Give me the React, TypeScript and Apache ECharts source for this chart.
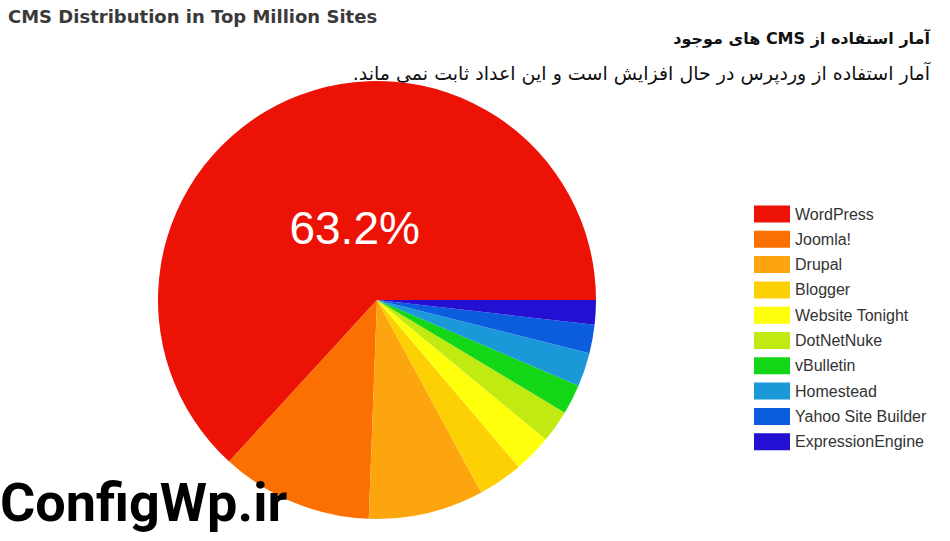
import React, { useEffect, useRef } from "react";
import * as echarts from "echarts";

const categories = [
  "WordPress",
  "Joomla!",
  "Drupal",
  "Blogger",
  "Website Tonight",
  "DotNetNuke",
  "vBulletin",
  "Homestead",
  "Yahoo Site Builder",
  "ExpressionEngine",
];
const shares = [63.2, 11.2, 8.5, 3.3, 2.8, 2.4, 2.2, 2.5, 2.1, 1.8];
const colors = [
  "#ec1206",
  "#fb7000",
  "#fca50e",
  "#fdd004",
  "#ffff0c",
  "#c0ea12",
  "#12d616",
  "#1a98d8",
  "#0c5ce0",
  "#2410d2",
];
const chartTitle = "CMS Distribution in Top Million Sites";
const faTitle = "آمار استفاده از CMS های موجود";
const faSubtitle = "آمار استفاده از وردپرس در حال افزایش است و این اعداد ثابت نمی ماند.";
const watermark = "ConfigWp.ir";

const RLE = "\u202B";
const PDF = "\u202C";

export default function App() {
  const ref = useRef<HTMLDivElement>(null);
  useEffect(() => {
    if (!ref.current) return;
    const chart = echarts.init(ref.current, undefined, { renderer: "svg" });
    chart.setOption({
      animation: false,
      backgroundColor: "#ffffff",
      title: [
        {
          text: chartTitle,
          left: 3,
          top: 2,
          textStyle: { fontFamily: "DejaVu Sans", fontWeight: "bold", fontSize: 18, color: "#3a3a3a" },
        },
        {
          text: RLE + faTitle + PDF,
          right: 15,
          top: 25,
          textStyle: { fontFamily: "DejaVu Sans", fontWeight: "bold", fontSize: 16, color: "#111" },
        },
        {
          text: RLE + faSubtitle + PDF,
          right: 15,
          top: 58,
          textStyle: { fontFamily: "DejaVu Sans", fontWeight: "normal", fontSize: 19, color: "#111" },
        },
        {
          text: watermark,
          left: -5,
          top: 470,
          textStyle: { fontFamily: "Roboto", fontWeight: "bold", fontSize: 54, color: "#000" },
        },
      ],
      legend: {
        orient: "vertical",
        left: 754,
        top: 205.5,
        padding: 0,
        itemWidth: 36,
        itemHeight: 17,
        itemGap: 8.3,
        icon: "rect",
        data: categories,
        textStyle: { fontFamily: "Liberation Sans", fontSize: 16, color: "#333" },
        selectedMode: false,
      },
      series: [
        {
          type: "pie",
          center: [377, 300],
          radius: 219,
          startAngle: 0,
          clockwise: false,
          silent: true,
          label: { show: false },
          labelLine: { show: false },
          labelLayout: (p: any) => (p.dataIndex === 0 ? { dx: 23, dy: 31 } : {}),
          itemStyle: { borderWidth: 0 },
          data: categories.map((name, i) => ({
            name,
            value: shares[i],
            itemStyle: { color: colors[i] },
            label:
              i === 0
                ? {
                    show: true,
                    position: "inside",
                    formatter: (p: any) => `${p.value}%`,
                    color: "#ffffff",
                    fontFamily: "Liberation Sans",
                    fontSize: 46,
                    textBorderWidth: 0,
                  }
                : { show: false },
          })),
        },
      ],
    });
    return () => chart.dispose();
  }, []);
  return (
    <div
      ref={ref}
      style={{ position: "fixed", left: 0, top: 0, width: 950, height: 541 }}
    />
  );
}
